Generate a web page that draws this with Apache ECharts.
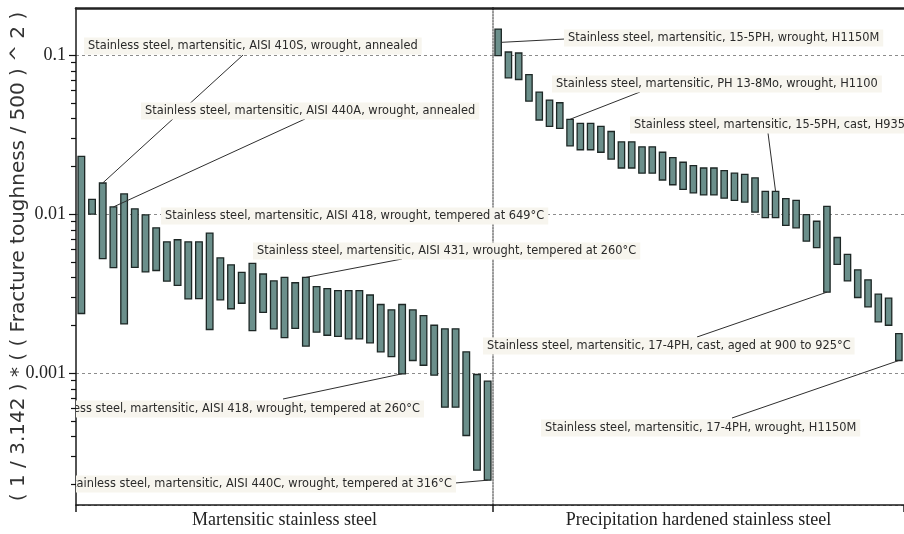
<!DOCTYPE html>
<html>
<head>
<meta charset="utf-8">
<script src="https://cdn.jsdelivr.net/npm/echarts@6/dist/echarts.min.js"></script>
<style>
html,body{margin:0;padding:0;background:#fff;}
#chart{width:904px;height:534px;}
</style>
</head>
<body>
<div id="chart"></div>
<script>
// ---------------- data ----------------
const groupNames = ['Martensitic stainless steel', 'Precipitation hardened stainless steel'];
const yAxisTitle = '( 1 / 3.142 ) * ( ( Fracture toughness / 500 ) ^ 2 )';
const Y_MIN = 0.000148;
const Y_MAX = 0.198;

const martensiticHigh = [0.0231, 0.0124, 0.0157, 0.0111, 0.0134, 0.0108, 0.0099, 0.0082, 0.0067, 0.0069,
  0.0067, 0.0067, 0.0076, 0.0053, 0.0048, 0.0043, 0.0049, 0.0042, 0.0038, 0.0040,
  0.0037, 0.0040, 0.0035, 0.0034, 0.0033, 0.0033, 0.0033, 0.0031, 0.0027, 0.0025,
  0.0027, 0.0025, 0.0023, 0.0020, 0.0019, 0.0019, 0.00136, 0.00098, 0.00089];
const martensiticLow = [0.00237, 0.0100, 0.00525, 0.00461, 0.00204, 0.00463, 0.00433, 0.00442, 0.00379, 0.00356,
  0.00293, 0.00294, 0.00188, 0.00289, 0.00254, 0.00275, 0.00185, 0.00241, 0.0019, 0.00167,
  0.00191, 0.00148, 0.00181, 0.00173, 0.0017, 0.00164, 0.00164, 0.00155, 0.00136, 0.00127,
  0.00099, 0.0012, 0.00112, 0.00097, 0.00061, 0.00061, 0.000405, 0.000245, 0.000212];

const phHigh = [0.146, 0.1047, 0.1032, 0.0755, 0.0586, 0.0522, 0.0502, 0.0395, 0.0372, 0.0372,
  0.0356, 0.0331, 0.0285, 0.0285, 0.0265, 0.0265, 0.0245, 0.0227, 0.0212, 0.0202,
  0.0195, 0.0195, 0.0188, 0.0181, 0.0178, 0.0169, 0.0139, 0.0139, 0.0125, 0.0122,
  0.00993, 0.00902, 0.0112, 0.00713, 0.00558, 0.00446, 0.00386, 0.00314, 0.00296, 0.00177];
const phLow = [0.0993, 0.0720, 0.0703, 0.0514, 0.0391, 0.0356, 0.0346, 0.0269, 0.0254, 0.0254,
  0.0245, 0.0222, 0.0195, 0.0195, 0.0181, 0.0181, 0.0164, 0.0153, 0.0143, 0.0136,
  0.0132, 0.0132, 0.0126, 0.0122, 0.0119, 0.0103, 0.0095, 0.0095, 0.0085, 0.0082,
  0.00676, 0.00615, 0.00323, 0.00483, 0.0038, 0.00299, 0.00261, 0.0021, 0.0020, 0.0012];

const yTickValues = [0.0002, 0.0003, 0.0004, 0.0005, 0.0006, 0.0007, 0.0008, 0.0009,
  0.001, 0.002, 0.003, 0.004, 0.005, 0.006, 0.007, 0.008, 0.009,
  0.01, 0.02, 0.03, 0.04, 0.05, 0.06, 0.07, 0.08, 0.09, 0.1];

const annotationTexts = [
  'Stainless steel, martensitic, AISI 410S, wrought, annealed',
  'Stainless steel, martensitic, AISI 440A, wrought, annealed',
  'Stainless steel, martensitic, AISI 418, wrought, tempered at 649°C',
  'Stainless steel, martensitic, AISI 431, wrought, tempered at 260°C',
  'Stainless steel, martensitic, AISI 418, wrought, tempered at 260°C',
  'Stainless steel, martensitic, AISI 440C, wrought, tempered at 316°C',
  'Stainless steel, martensitic, 15-5PH, wrought, H1150M',
  'Stainless steel, martensitic, PH 13-8Mo, wrought, H1100',
  'Stainless steel, martensitic, 15-5PH, cast, H935',
  'Stainless steel, martensitic, 17-4PH, cast, aged at 900 to 925°C',
  'Stainless steel, martensitic, 17-4PH, wrought, H1150M'
];
const annotationGroup = [0, 0, 0, 0, 0, 0, 1, 1, 1, 1, 1];
const annotationBar   = [2, 3, 6, 21, 30, 38, 0, 7, 27, 32, 39];
const annotationEnd   = ['top', 'top', 'top', 'top', 'bottom', 'bottom', 'mid', 'top', 'top', 'bottom', 'bottom'];

// ---------------- layout / style ----------------
// [x of text edge, centre y, alignment]
const labelLayout = [
  [88, 46, 'left'], [145, 111, 'left'], [165, 216, 'left'], [257, 251, 'left'],
  [420, 409, 'right'], [452, 484, 'right'],
  [568, 38, 'left'], [556, 84, 'left'], [634, 125, 'left'], [487, 346, 'left'], [545, 428, 'left']
];
const leaderStart = [
  [243, 55], [305, 119], null, [402, 259], [283, 399], [455, 483],
  [565, 39], [640, 92], [768, 133], [697, 337], [732, 418]
];
const LABEL_PAD = 4;
const BAR_FRACTION = 0.62;
const BAR_FILL = '#6b8f8b';
const BAR_EDGE = '#1d2725';
const LABEL_FONT = '11.4px "DejaVu Sans"';
const SERIF = '"Liberation Serif", "DejaVu Serif", serif';

// ---------------- build ----------------
const martensiticIds = martensiticLow.map((_, i) => 'M' + (i + 1));
const phIds = phLow.map((_, i) => 'P' + (i + 1));

function barItem(params, api) {
  const i = api.value(0);
  const lo = api.coord([i, api.value(1)]);
  const hi = api.coord([i, api.value(2)]);
  const w = api.size([1, 0])[0] * BAR_FRACTION;
  return {
    type: 'rect',
    shape: { x: lo[0] - w / 2, y: hi[1], width: w, height: lo[1] - hi[1] },
    style: { fill: BAR_FILL, stroke: BAR_EDGE, lineWidth: 1.3 }
  };
}

function tickItem(params, api) {
  const v = api.value(1);
  const p = api.coord([0, v]);
  const x0 = p[0] - api.size([1, 0])[0] / 2;
  const lg = Math.log10(v);
  const major = Math.abs(lg - Math.round(lg)) < 1e-6;
  const len = major ? 7 : 5;
  const y = Math.round(p[1]) + 0.5;
  return {
    type: 'line',
    shape: { x1: x0 - len, y1: y, x2: x0, y2: y },
    style: { stroke: '#111', lineWidth: 1.2 }
  };
}

function annotationItem(params, api) {
  const b = api.value(0), v = api.value(1), k = api.value(2);
  const p = api.coord([b, v]);
  const lay = labelLayout[k];
  const children = [];
  const s = leaderStart[k];
  if (s) {
    let ex = p[0];
    if (annotationEnd[k] === 'mid') ex += api.size([1, 0])[0] * BAR_FRACTION / 2;
    children.push({
      type: 'line',
      shape: { x1: s[0], y1: s[1], x2: ex, y2: p[1] },
      style: { stroke: '#2e2e2e', lineWidth: 1 }
    });
  }
  const tx = lay[2] === 'left' ? lay[0] - LABEL_PAD : lay[0] + LABEL_PAD;
  children.push({
    type: 'text',
    x: tx, y: lay[1],
    style: {
      text: annotationTexts[k], font: LABEL_FONT, fill: '#2a2a2a',
      align: lay[2], verticalAlign: 'middle',
      backgroundColor: '#f7f5ee', padding: [3, LABEL_PAD, 3, LABEL_PAD]
    }
  });
  return { type: 'group', children: children };
}

function annData(ids) {
  return ids.map(k => {
    const g = annotationGroup[k], b = annotationBar[k];
    const lo = (g ? phLow : martensiticLow)[b];
    const hi = (g ? phHigh : martensiticHigh)[b];
    const e = annotationEnd[k];
    const v = e === 'top' ? hi : (e === 'bottom' ? lo : Math.sqrt(lo * hi));
    return [b, v, k];
  });
}

const splitLineStyle = { show: true, lineStyle: { type: [3, 3], color: '#8c8c8c', width: 1 } };

function bottomAxis(gi, data, name) {
  return {
    gridIndex: gi, type: 'category', data: data, position: 'bottom',
    axisLine: { show: true, lineStyle: { color: '#1a1a1a', width: 1.5 } },
    axisTick: { show: true, interval: (i) => i === 0, length: 7, lineStyle: { color: '#1a1a1a', width: 1.5 } },
    axisLabel: { show: false },
    splitLine: { show: false },
    name: name, nameLocation: 'middle', nameGap: 6,
    nameTextStyle: { fontFamily: SERIF, fontSize: 18, color: '#222', verticalAlign: 'top' }
  };
}
function topAxis(gi, data) {
  return {
    gridIndex: gi, type: 'category', data: data, position: 'top',
    axisLine: { show: true, lineStyle: { color: '#222', width: 2.5 } },
    axisTick: { show: false }, axisLabel: { show: false }, splitLine: { show: false }
  };
}

const option = {
  animation: false,
  backgroundColor: '#ffffff',
  grid: [
    { left: 76, top: 8, width: 417, height: 500 },
    { left: 493, top: 8, width: 417, height: 500 }
  ],
  xAxis: [
    bottomAxis(0, martensiticIds, groupNames[0]),
    topAxis(0, martensiticIds),
    bottomAxis(1, phIds, groupNames[1]),
    topAxis(1, phIds)
  ],
  yAxis: [
    {
      gridIndex: 0, type: 'log', logBase: 10, min: Y_MIN, max: Y_MAX,
      axisLine: { show: true, lineStyle: { color: '#1a1a1a', width: 1.5 } },
      axisTick: { show: false },
      axisLabel: {
        showMinLabel: false, showMaxLabel: false, margin: 10,
        fontFamily: SERIF, fontSize: 18, color: '#222',
        formatter: (v) => String(Number(Number(v).toPrecision(3)))
      },
      splitLine: splitLineStyle,
      name: yAxisTitle, nameLocation: 'middle', nameGap: 47, nameMoveOverlap: false,
      nameTextStyle: { fontFamily: 'DejaVu Sans', fontSize: 20, color: '#333' }
    },
    {
      gridIndex: 1, type: 'log', logBase: 10, min: Y_MIN, max: Y_MAX,
      axisLine: { show: true, lineStyle: { type: 'dotted', color: '#777', width: 1.5 } },
      axisTick: { show: false }, axisLabel: { show: false },
      splitLine: splitLineStyle
    }
  ],
  series: [
    {
      type: 'custom', name: groupNames[0], xAxisIndex: 0, yAxisIndex: 0, z: 2, silent: true,
      renderItem: barItem, encode: { x: 0, y: [1, 2] },
      data: martensiticLow.map((lo, i) => [i, lo, martensiticHigh[i]])
    },
    {
      type: 'custom', name: groupNames[1], xAxisIndex: 2, yAxisIndex: 1, z: 2, silent: true,
      renderItem: barItem, encode: { x: 0, y: [1, 2] },
      data: phLow.map((lo, i) => [i, lo, phHigh[i]])
    },
    {
      type: 'custom', xAxisIndex: 0, yAxisIndex: 0, z: 10, silent: true, clip: false,
      renderItem: annotationItem, encode: { x: 0, y: 1 },
      data: annData([0, 1, 2, 3])
    },
    {
      type: 'custom', xAxisIndex: 0, yAxisIndex: 0, z: 10, silent: true, clip: true,
      renderItem: annotationItem, encode: { x: 0, y: 1 },
      data: annData([4, 5])
    },
    {
      type: 'custom', xAxisIndex: 2, yAxisIndex: 1, z: 10, silent: true, clip: false,
      renderItem: annotationItem, encode: { x: 0, y: 1 },
      data: annData([6, 7, 8, 9, 10])
    },
    {
      type: 'custom', xAxisIndex: 0, yAxisIndex: 0, z: 11, silent: true, clip: false,
      renderItem: tickItem, encode: { x: 0, y: 1 },
      data: yTickValues.map(v => [0, v])
    }
  ]
};

const chart = echarts.init(document.getElementById('chart'), null, { renderer: 'canvas' });
chart.setOption(option);
</script>
</body>
</html>
